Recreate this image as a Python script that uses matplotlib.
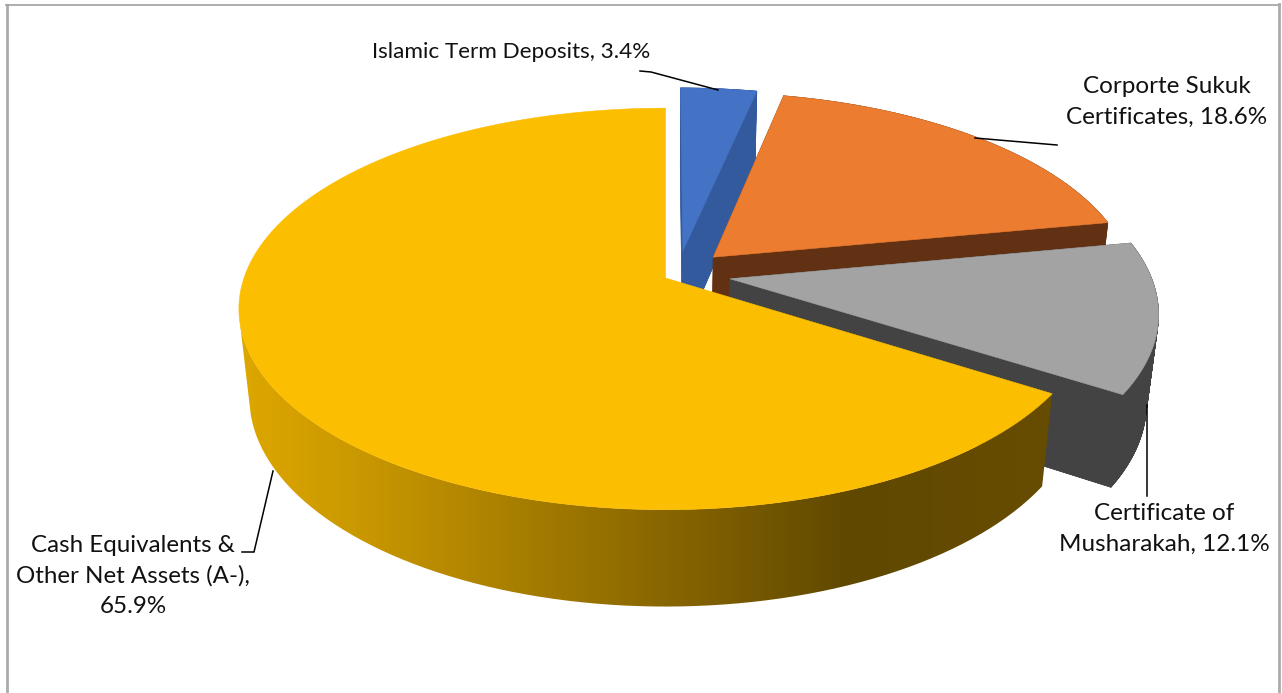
"""Exploded 3D pie of the fund's asset allocation, drawn with a small perspective model."""

from __future__ import annotations

import matplotlib
import numpy as np

matplotlib.use("Agg")
import matplotlib.pyplot as plt  # noqa: E402
from matplotlib.collections import PolyCollection  # noqa: E402
from matplotlib.colors import LinearSegmentedColormap  # noqa: E402
from matplotlib.patches import PathPatch  # noqa: E402
from matplotlib.path import Path  # noqa: E402

# slices in clockwise order from 12 o'clock
LABELS = [
    "Islamic Term Deposits, 3.4%",
    "Corporte Sukuk\nCertificates, 18.6%",
    "Certificate of\nMusharakah, 12.1%",
    "Cash Equivalents &\nOther Net Assets (A-),\n65.9%",
]
SHARES = [3.4, 18.6, 12.1, 65.9]
TOP_COLORS = ["#4472C4", "#EC7C30", "#A3A3A3", "#FCBE00"]
SIDE_COLORS = ["#335A9C", "#623113", "#434343", None]

# explosion offset of each slice, in units of the pie radius (right, back)
OFFSETS = [(0.042, 0.140), (0.115, 0.108), (0.153, -0.004), (0.0, 0.0)]

LABEL_POS = [(511, 52), (1167, 102), (1164, 529), (133, 576)]
LABEL_SIZE = [16.2, 17.5, 17.5, 17.4]
LEADERS = [
    [(640, 71), (651, 72), (718, 90)],
    [(975, 138), (1057, 145)],
    [(1147, 405), (1147, 496)],
    [(273, 471), (254, 552), (242, 552)],
]

# perspective model of the disk, pixel units
CX, CY = 665.5, 278.0
RX, RY = 421.5, 196.0
DEPTH = 90.0
K_BACK, K_DEPTH = 0.154, 0.0245
WALL_END = 259.0  # where the curved wall leaves the silhouette on the left

WALL_X = [238, 350, 600, 850, 1060]
WALL_RGB = ["#DEA700", "#CB9900", "#967100", "#604800", "#674D00"]


def project(u: np.ndarray, v: np.ndarray, z: float = 0.0) -> np.ndarray:
    """Disk coordinates (z=0 top, z=1 bottom) to pixels."""
    w = 1 + K_BACK * v + K_DEPTH * z
    return np.column_stack((CX + RX * u / w, CY + (-RY * v + DEPTH * z) / w))


def arc(th0: float, th1: float, off: tuple[float, float], z: float = 0.0) -> np.ndarray:
    th = np.radians(np.linspace(th0, th1, 240))
    return project(np.sin(th) + off[0], np.cos(th) + off[1], z)


def wedge(th0: float, th1: float, off: tuple[float, float], z: float = 0.0) -> np.ndarray:
    apex = project(np.array([off[0]]), np.array([off[1]]), z)
    return np.vstack((apex, arc(th0, th1, off, z)))


def draw_body(ax, th0, th1, off, color, zorder) -> None:
    """Extruded wedge: bottom face plus one quad per edge of the outline."""
    top = wedge(th0, th1, off)
    bot = wedge(th0, th1, off, 1.0)
    quads = [
        np.array([top[i], top[(i + 1) % len(top)], bot[(i + 1) % len(top)], bot[i]])
        for i in range(len(top))
    ]
    ax.add_collection(PolyCollection(quads + [bot], facecolors=color, edgecolors=color,
                                     linewidths=0.4, zorder=zorder))


def draw_gradient_wall(ax, th0, th1, off, zorder) -> None:
    """Curved front wall, shaded left to right."""
    outline = np.vstack((arc(th0, th1, off), arc(th0, th1, off, 1.0)[::-1]))
    patch = PathPatch(Path(outline), fc="none", ec="none", zorder=zorder)
    ax.add_patch(patch)
    stops = [(x - WALL_X[0]) / (WALL_X[-1] - WALL_X[0]) for x in WALL_X]
    cmap = LinearSegmentedColormap.from_list("wall", list(zip(stops, WALL_RGB)))
    img = ax.imshow(np.linspace(0, 1, 512)[None, :], cmap=cmap, aspect="auto",
                    extent=(WALL_X[0], WALL_X[-1], 693, 0), zorder=zorder)
    img.set_clip_path(patch)


def main() -> None:
    plt.rcParams["font.family"] = ["Lato", "DejaVu Sans"]
    fig = plt.figure(figsize=(12.82, 6.93), dpi=100)
    ax = fig.add_axes([0, 0, 1, 1])

    edges = np.concatenate(([0.0], np.cumsum(SHARES))) * 3.6
    for i, (top_c, side_c, off) in enumerate(zip(TOP_COLORS, SIDE_COLORS, OFFSETS)):
        th0, th1 = edges[i], edges[i + 1]
        z = 2 + 2 * i
        if side_c is None:
            draw_gradient_wall(ax, th0, WALL_END, off, z)
        else:
            draw_body(ax, th0, th1, off, side_c, z)
        ax.fill(*wedge(th0, th1, off).T, color=top_c, lw=0.4, zorder=z + 1)

    for pts in LEADERS:
        ax.plot(*np.array(pts).T, color="black", lw=1.1, zorder=20,
                solid_joinstyle="miter")
    for text, (x, y), size in zip(LABELS, LABEL_POS, LABEL_SIZE):
        ax.text(x, y, text, ha="center", va="center", fontsize=size, color="#111111",
                linespacing=1.56, zorder=21)

    # chart frame, open at the bottom
    ax.plot([7, 7], [693, 5], color="#ABABAB", lw=2, zorder=1)
    ax.plot([6, 1280], [4.5, 4.5], color="#A0A0A0", lw=1.2, zorder=1)
    ax.plot([1279, 1279], [4, 693], color="#ABABAB", lw=2, zorder=1)

    ax.set_xlim(0, 1282)
    ax.set_ylim(693, 0)
    ax.axis("off")
    fig.savefig("out.png", dpi=100, facecolor="white")


if __name__ == "__main__":
    main()
